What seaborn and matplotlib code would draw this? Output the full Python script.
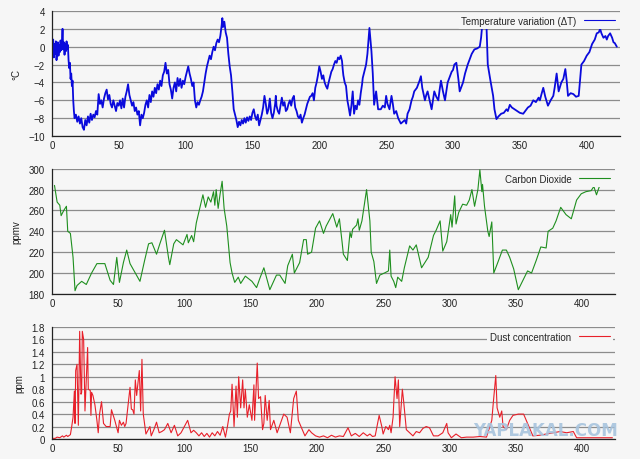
import matplotlib
matplotlib.use("Agg")
import matplotlib.pyplot as plt
import seaborn as sns

# temperature variation (deg C) vs age (kyr BP)
temp_age = [
    0, 0.5, 1, 1.5, 2, 2.5, 3, 3.5, 4, 4.5, 5, 5.5, 6, 6.5, 7, 7.5, 8, 8.5, 9, 9.5,
    10, 10.5, 11, 11.5, 12, 12.5, 13, 13.5, 14, 14.5, 15, 15.5, 16, 16.5, 17, 18, 19, 20,
    21, 22, 23, 24, 25, 26, 27, 28, 29, 30, 31, 32, 33, 34, 35, 36, 37, 38, 39, 40,
    41, 42, 43, 44, 45, 46, 47, 48, 49, 50, 51, 52, 53, 54, 55, 56, 57, 58, 59, 60,
    61, 62, 63, 64, 65, 66, 67, 68, 69, 70, 71, 72, 73, 74, 75, 76, 77, 78, 79, 80,
    81, 82, 83, 84, 85, 86, 87, 88, 89, 90, 91, 92, 93, 94, 95, 96, 97, 98, 99, 100,
    101, 102, 103, 104, 105, 106, 107, 108, 109, 110, 111, 112, 113, 114, 115, 116, 117, 118, 119, 120,
    121, 122, 123, 124, 125, 126, 127, 127.5, 128, 129, 130, 131, 132, 133, 134, 135, 136, 137, 138, 139,
    140, 141, 142, 143, 144, 145, 146, 147, 148, 149, 150, 151, 152, 153, 154, 155, 156, 157, 158, 159,
    160, 161, 162, 163, 164, 165, 166, 167, 167.5, 168, 169, 170, 171, 172, 173, 174, 175, 176, 177, 178,
    179, 180, 181, 182, 183, 184, 185, 186, 187, 188, 189, 190, 191, 192, 193, 194, 195, 196, 197, 198,
    199, 200, 201, 202, 203, 204, 205, 206, 207, 208, 209, 210, 211, 212, 213, 214, 215, 216, 217, 217.5,
    218, 219, 220, 221, 222, 223, 224, 225, 226, 227, 228, 229, 230, 231, 232, 232.5, 234, 235, 236, 237.5,
    239, 240, 241, 242.5, 244, 246, 247.5, 249, 250, 251, 252.5, 254, 255, 256, 257.5, 259, 260, 261, 262.5, 264,
    265, 266, 267.5, 269, 270, 271, 273, 275, 276, 277, 279, 280, 281, 282.5, 284, 285, 286, 287.5, 289, 290,
    291, 292.5, 294, 295, 296, 297.5, 299, 300, 301, 302.5, 304, 305, 306, 307.5, 309, 311, 312.5, 314, 316, 318,
    320, 321, 322.5, 323.5, 325, 326, 328, 330, 331, 332.5, 334, 336, 338, 340, 341, 342.5, 344, 346, 348, 350,
    352.5, 354, 356, 358, 360, 362, 364, 365, 366, 367.5, 369, 371, 373, 375, 376, 377.5, 379, 381, 382.5, 384,
    385, 386, 388, 390, 392, 394, 396, 398, 400, 402, 404, 406, 407.5, 409, 410, 411, 412.5, 414, 415, 416,
    417.5, 419, 420, 421, 422.5,
]
temp_val = [
    0.0, -0.5, 0.8, -1.2, 0.3, -0.8, 0.6, -1.5, -0.2, 0.5, -1.0, 0.2, -0.6, 0.7, -0.4, 0.4, 2.0, -0.3, 0.5, -0.9,
    0.3, -0.5, 0.6, -0.2, 0.2, -1.5, -2.4, -1.8, -3.6, -3.0, -4.4, -3.8, -6.0, -7.2, -8.0, -7.6, -8.4, -7.8,
    -8.6, -8.0, -9.0, -9.3, -8.2, -8.8, -7.8, -8.5, -7.5, -8.2, -7.6, -7.9, -7.2, -7.6, -5.3, -6.4, -6.0, -6.8, -5.8, -5.2,
    -4.8, -5.9, -5.4, -6.4, -6.8, -6.0, -6.6, -7.2, -6.3, -6.6, -6.0, -6.9, -5.8, -6.8, -5.6, -5.0, -4.2, -5.4, -6.0, -6.6,
    -6.2, -7.2, -6.8, -7.6, -7.2, -8.8, -7.6, -8.0, -7.4, -6.5, -6.0, -6.8, -5.4, -6.2, -5.0, -5.6, -4.6, -5.2, -4.2, -4.8,
    -3.8, -4.4, -3.2, -2.8, -1.8, -3.0, -2.6, -4.2, -4.8, -5.8, -4.6, -4.0, -5.0, -3.5, -4.4, -3.6, -4.6, -3.8, -4.2, -3.4,
    -2.8, -2.2, -3.0, -3.6, -4.4, -4.0, -6.0, -6.8, -6.2, -6.5, -6.0, -5.6, -5.0, -4.0, -3.0, -2.2, -1.6, -1.0, -1.4, -0.6,
    0.0, -0.4, 0.4, 0.8, 0.5, 1.2, 2.4, 3.2, 2.2, 2.8, 1.6, 1.0, -0.8, -2.2, -3.2, -5.0, -7.0, -7.6, -8.2, -9.0,
    -8.4, -8.8, -8.2, -8.6, -8.0, -8.5, -7.9, -8.3, -7.8, -8.2, -7.4, -7.0, -7.8, -8.2, -7.6, -8.8, -8.2, -7.6, -6.8, -5.5,
    -6.4, -7.5, -7.0, -5.8, -7.4, -8.0, -7.4, -6.4, -5.5, -6.6, -7.2, -7.5, -6.6, -5.7, -6.6, -6.2, -7.2, -7.0, -6.4, -6.0,
    -6.6, -5.8, -5.5, -6.8, -7.2, -7.8, -8.0, -7.6, -8.5, -8.0, -7.6, -7.0, -6.4, -6.0, -5.6, -5.5, -5.2, -6.0, -4.6, -4.0,
    -3.2, -2.2, -2.8, -3.6, -3.2, -4.0, -4.4, -4.7, -4.0, -3.4, -2.8, -2.5, -2.0, -1.6, -1.8, -1.2, -1.4, -1.0, -1.6, -2.5,
    -3.2, -4.0, -4.4, -6.0, -6.8, -7.7, -6.6, -5.0, -7.5, -6.6, -7.0, -6.0, -6.5, -5.2, -4.2, -3.5, -2.6, -2.0, -0.8, 2.1,
    -0.5, -3.0, -6.5, -5.0, -7.0, -7.0, -6.6, -6.8, -5.5, -6.4, -7.0, -5.5, -6.4, -7.5, -7.2, -8.0, -8.3, -8.6, -8.4, -8.2,
    -8.6, -7.5, -7.0, -6.0, -5.6, -5.0, -4.6, -3.8, -3.3, -4.6, -6.0, -5.4, -5.0, -6.0, -7.0, -6.0, -5.0, -5.6, -6.0, -4.8,
    -3.8, -5.0, -6.0, -5.0, -4.0, -3.4, -2.8, -2.6, -2.0, -1.8, -3.6, -5.0, -4.6, -4.0, -3.0, -2.0, -1.4, -0.8, -0.3, -0.2,
    0.0, 1.0, 3.5, 3.0, 2.5, -2.0, -3.8, -5.5, -7.0, -8.1, -7.8, -7.5, -7.4, -7.0, -7.2, -6.5, -6.8, -7.0, -7.2, -7.4,
    -7.5, -7.2, -6.8, -6.6, -6.0, -6.2, -5.7, -6.0, -5.4, -4.6, -5.6, -6.6, -6.0, -5.5, -4.6, -3.0, -5.0, -4.0, -3.6, -2.5,
    -3.8, -5.5, -5.2, -5.3, -5.6, -5.5, -2.0, -1.6, -1.0, -0.6, 0.3, 0.8, 1.5, 1.6, 2.0, 1.5, 1.0, 1.2, 0.8, 1.2,
    1.5, 1.0, 0.5, 0.4, 0.0,
]

# carbon dioxide (ppmv)
co2_age = [
    2, 4, 6, 7, 9, 11, 12, 14, 16, 17.5, 19, 22.5, 26, 30, 34, 40, 44, 46.5, 49, 51,
    54, 56.5, 59, 63, 66.5, 70, 73, 75.5, 79, 81.5, 85, 88, 89, 92, 94, 99, 102, 103, 105.5, 107,
    109, 112, 114, 116, 118, 120, 122, 123, 124, 125.5, 127, 128.5, 130, 132, 134.5, 136, 138, 140.7, 142.5, 146,
    151, 154.5, 157, 160, 164.5, 169.5, 172, 176, 178, 181.5, 183, 187, 190, 192, 193, 196, 199, 202, 205, 207,
    212, 215, 217, 219, 220, 223, 225, 226, 227, 230, 231, 232, 234, 237.5, 240, 241, 243, 245, 247.5, 251,
    254, 255, 256, 258, 259.5, 261, 264, 266, 270, 272.5, 275, 279, 284, 288, 290, 293, 295, 298, 301, 302,
    304, 305, 307, 310, 313, 315, 317, 319, 321.5, 323, 324.5, 325, 326.5, 329, 330, 332, 333.5, 336.5, 340, 343,
    345.5, 348.5, 352, 355.5, 359, 362, 365.5, 369, 373, 374.5, 378, 380.5, 384, 388, 392, 396, 399.5, 403, 407, 409,
    411, 414,
]
co2_val = [
    284, 268, 265, 255, 260, 264, 240, 238, 215, 183, 188, 192, 189, 200, 209, 209, 193, 189, 215, 191,
    210, 222, 209, 200, 192, 212, 228, 229, 218, 228, 241, 215, 208, 228, 232, 227, 237, 229, 236, 230,
    248, 264, 275, 263, 273, 268, 278, 265, 280, 262, 276, 288, 262, 245, 210, 200, 191, 196, 190, 197,
    192, 186, 195, 205, 184, 198, 198, 190, 207, 218, 200, 210, 232, 232, 218, 220, 243, 250, 238, 245,
    257, 244, 252, 230, 218, 212, 239, 234, 242, 246, 252, 241, 250, 280, 250, 220, 211, 190, 198, 200,
    202, 222, 197, 192, 186, 196, 192, 205, 226, 222, 227, 205, 215, 236, 241, 250, 221, 230, 256, 244,
    274, 247, 258, 266, 265, 270, 280, 264, 280, 299, 278, 285, 264, 240, 235, 249, 200, 210, 222, 222,
    215, 204, 184, 193, 202, 200, 212, 225, 224, 240, 243, 250, 263, 256, 252, 270, 276, 278, 279, 283,
    275, 286,
]

# dust concentration (ppm)
dust_age = [
    0, 2.5, 4, 6, 8, 9, 11, 12, 14, 15, 16, 17, 17.5, 18, 19, 20, 21, 22, 22.5, 23,
    24, 25, 27, 27.5, 29, 29.5, 30, 31, 32.5, 34, 35, 36, 37.5, 39, 41, 44, 45, 47.5, 50, 51,
    52.5, 54, 55, 56, 59, 60, 61, 62, 63, 64, 66, 67, 68, 69, 71, 74, 75, 77, 79, 81,
    83, 85, 87.5, 90, 92.5, 95, 97.5, 100, 102.5, 105, 107, 109, 111, 113, 115, 117, 119, 121, 123, 125,
    127, 129, 131, 132.5, 134, 135, 136, 137.5, 139, 140, 141, 142.5, 144, 145, 146, 147.5, 149, 151, 152.5, 153,
    155, 156, 157.5, 159, 160, 161, 162.5, 164, 165, 167.5, 170, 172.5, 175, 177.5, 180, 182.5, 184.5, 186, 189, 191,
    194, 196, 199, 202, 205, 208, 211, 214, 217, 220, 223.5, 226, 229, 232, 235, 238, 240, 242, 244, 247,
    249, 250, 252, 254, 255, 256, 257.5, 259, 260.5, 261.5, 262.5, 264.5, 265.5, 267.5, 270, 272.5, 275, 277.5, 280, 282.5,
    285, 288, 291.5, 295, 298, 299, 301.5, 305, 309, 313, 318, 323, 328, 332, 333, 335, 336, 338, 339.5, 340.5,
    343, 345.5, 348, 352, 356, 358, 361, 363, 368, 373, 378.5, 383.5, 388.5, 393.5, 396, 401, 410, 416, 423,
]
dust_val = [
    0.01, 0.01, 0.03, 0.02, 0.05, 0.03, 0.06, 0.04, 0.07, 0.2, 0.35, 0.77, 0.25, 1.1, 1.2, 0.22, 1.73, 0.72, 0.75, 1.73,
    1.6, 0.45, 1.47, 0.8, 0.78, 0.38, 0.75, 0.7, 0.55, 0.3, 0.1, 0.4, 0.6, 0.25, 0.2, 0.2, 0.47, 0.3, 0.1, 0.3,
    0.22, 0.27, 0.2, 0.25, 0.83, 0.48, 0.47, 0.4, 0.95, 0.7, 1.1, 0.45, 1.28, 0.4, 0.08, 0.2, 0.05, 0.15, 0.27, 0.1,
    0.12, 0.15, 0.25, 0.1, 0.22, 0.05, 0.1, 0.2, 0.3, 0.1, 0.14, 0.1, 0.05, 0.1, 0.04, 0.09, 0.03, 0.1, 0.05, 0.12,
    0.06, 0.2, 0.03, 0.2, 0.4, 0.45, 0.88, 0.2, 0.85, 0.35, 1.0, 0.5, 0.95, 0.5, 0.8, 0.35, 0.55, 0.3, 0.87, 0.3,
    1.22, 0.65, 0.68, 0.15, 0.25, 0.7, 0.3, 0.62, 0.15, 0.3, 0.1, 0.25, 0.4, 0.35, 0.1, 0.65, 0.77, 0.3, 0.15, 0.05,
    0.15, 0.1, 0.05, 0.03, 0.05, 0.02, 0.06, 0.03, 0.05, 0.04, 0.18, 0.05, 0.09, 0.04, 0.1, 0.05, 0.08, 0.04, 0.05, 0.38,
    0.2, 0.08, 0.2, 0.15, 0.22, 0.1, 0.35, 1.0, 0.65, 0.95, 0.2, 0.8, 0.6, 0.15, 0.1, 0.05, 0.12, 0.1, 0.17, 0.2,
    0.18, 0.05, 0.05, 0.1, 0.25, 0.1, 0.02, 0.08, 0.02, 0.03, 0.03, 0.04, 0.03, 0.3, 0.55, 1.02, 0.5, 0.35, 0.45, 0.2,
    0.15, 0.3, 0.38, 0.4, 0.4, 0.3, 0.15, 0.05, 0.06, 0.08, 0.1, 0.12, 0.1, 0.12, 0.02, 0.02, 0.02, 0.02, 0.02,
]

x_ticks = [0, 50, 100, 150, 200, 250, 300, 350, 400]
temp_ticks = [-10, -8, -6, -4, -2, 0, 2, 4]
co2_ticks = [180, 200, 220, 240, 260, 280, 300]
dust_ticks = [0, 0.2, 0.4, 0.6, 0.8, 1, 1.2, 1.4, 1.6, 1.8]
dust_labels = ["0", "0.2", "0.4", "0.6", "0.8", "1", "1.2", "1.4", "1.6", "1.8"]

bg = "#f6f6f6"
sns.set_style("white")
plt.rcParams["font.family"] = ["Liberation Sans", "DejaVu Sans"]
plt.rcParams["font.size"] = 7

fig = plt.figure(figsize=(6.4, 4.6), dpi=100, facecolor=bg)
ax1 = fig.add_axes([0.081, 0.702, 0.888, 0.272])
ax2 = fig.add_axes([0.081, 0.359, 0.880, 0.272])
ax3 = fig.add_axes([0.081, 0.0435, 0.880, 0.2435])

panels = [
    (ax1, temp_age, temp_val, "#0a0adc", 1.3, "Temperature variation (ΔT)", "°C", temp_ticks, None, (-10, 4)),
    (ax2, co2_age, co2_val, "#1f8f1f", 0.8, "Carbon Dioxide", "ppmv", co2_ticks, None, (180, 300)),
    (ax3, dust_age, dust_val, "#e8202a", 0.8, "Dust concentration", "ppm", dust_ticks, dust_labels, (0, 1.8)),
]

for ax, xs, ys, color, lw, label, ylab, yt, ytl, ylim in panels:
    ax.set_facecolor(bg)
    sns.lineplot(x=xs, y=ys, ax=ax, color=color, linewidth=lw, label=label, estimator=None)
    ax.set_xlim(0, 425)
    ax.set_ylim(*ylim)
    ax.set_xticks(x_ticks)
    ax.set_yticks(yt)
    if ytl is not None:
        ax.set_yticklabels(ytl)
    ax.grid(axis="y", color="#8c8c8c", linewidth=0.9)
    ax.grid(axis="x", visible=False)
    ax.set_axisbelow(True)
    for side in ["top", "right"]:
        ax.spines[side].set_visible(False)
    for side in ["left", "bottom"]:
        ax.spines[side].set_color("#222222")
        ax.spines[side].set_linewidth(0.9)
    ax.tick_params(axis="x", direction="in", length=4, colors="#222222", labelsize=7, pad=3)
    ax.tick_params(axis="y", direction="out", length=3, colors="#222222", labelsize=7, pad=2)
    ax.set_ylabel(ylab, fontsize=7, color="#222222", labelpad=5)
    leg = ax.legend(loc="upper right", markerfirst=False, fontsize=7, handlelength=3.2,
                    frameon=True, facecolor=bg, edgecolor="none", framealpha=1,
                    borderaxespad=0.2, borderpad=0.3)
    for line in leg.get_lines():
        line.set_linewidth(0.8)

fig.text(0.852, 0.063, "YAPLAKAL.COM", fontsize=12, fontweight="bold", color="#a8c4de",
         ha="center", va="center", family=["DejaVu Sans"], alpha=0.9)

fig.savefig("out.png", dpi=100, facecolor=bg)
